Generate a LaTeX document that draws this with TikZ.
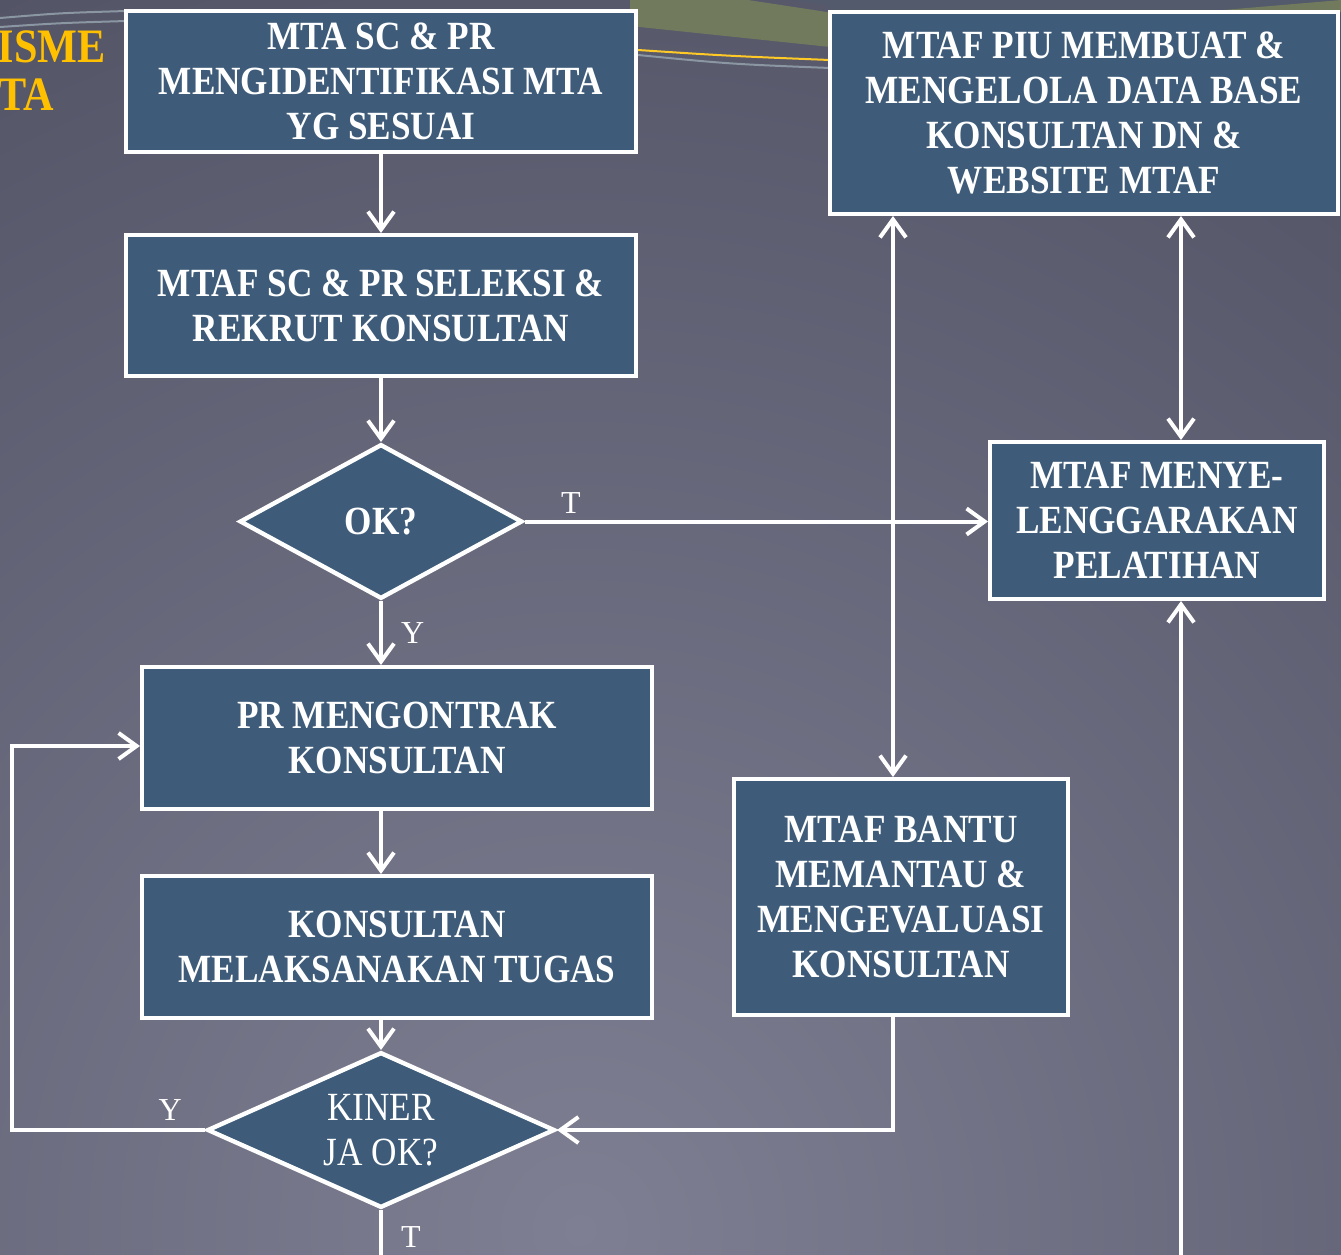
\documentclass[tikz,border=0pt]{standalone}
\usepackage{fontspec}
\setmainfont{Liberation Serif}
\newfontfamily\boxfont{Liberation Serif}[FakeStretch=0.88]
\usepackage{tikz}
\usetikzlibrary{positioning,arrows.meta,calc,shapes.geometric}

\definecolor{boxblue}{HTML}{3E5C79}
\definecolor{bglight}{HTML}{7F7F93}
\definecolor{bgdark}{HTML}{2D2D3F}
\definecolor{olive}{HTML}{717A5C}
\definecolor{topgray}{HTML}{525A6C}
\definecolor{swoosh}{HTML}{8A96A2}
\definecolor{titleyellow}{HTML}{FFC000}

\tikzset{
  flowbox/.style={draw=white, fill=boxblue, line width=2.2pt, text=white, align=center,
    font=\boxfont\bfseries\fontsize{20}{22.5}\selectfont, inner sep=2pt},
  decision/.style={flowbox, diamond, inner sep=0pt},
  flowline/.style={draw=white, line width=2pt},
  lbl/.style={text=white, font=\fontsize{16}{18}\selectfont, inner sep=0pt},
  title/.style={text=titleyellow, font=\boxfont\bfseries\fontsize{24}{28}\selectfont, inner sep=0pt},
}

\begin{document}
\begin{tikzpicture}[x=0.5pt,y=-0.5pt,>={Straight Barb[length=9pt,width=13pt]}]

  \useasboundingbox (0,0) rectangle (1341,1255);

  % background
  \begin{scope}
    \clip (0,0) rectangle (1341,1255);
    \shade[inner color=bglight, outer color=bgdark] (-2020,-1370) rectangle (3180,3830);
    \fill[olive] (630,0) -- (748,0) -- (840,14) -- (840,48) -- (630,26) -- cycle;
    \fill[topgray] (792,0) -- (840,0) -- (840,7) -- cycle;
    \fill[topgray] (828,0) rectangle (1341,12);
    \fill[olive] (1200,12) -- (1341,0) -- (1341,12) -- cycle;
    \draw[swoosh, line width=1pt] (0,18) .. controls (60,13) .. (126,11);
    \draw[swoosh, line width=1pt] (0,27) .. controls (60,23) .. (126,21);
    \draw[titleyellow!85!white, line width=1pt] (638,50) .. controls (730,56) .. (830,60);
    \draw[swoosh, line width=1pt] (638,55) .. controls (730,64) .. (830,68);
  \end{scope}

  \node[title, anchor=base east] (ttlA) at (106,62) {ISME};
  \node[title, anchor=base east] (ttlB) at (54,110) {TA};

  % left column
  \node[flowbox, minimum width=254.8pt, minimum height=70.3pt] (mta) at (381,81.5)
    {MTA SC \& PR\\MENGIDENTIFIKASI MTA\\YG SESUAI};
  \node[flowbox, minimum width=254.8pt, minimum height=70.3pt] (seleksi) [below=39.5pt of mta]
    {MTAF SC \& PR SELEKSI \&\\REKRUT KONSULTAN};
  \node[decision, aspect=1.8, minimum width=141.3pt, minimum height=77.3pt] (ok) [below=32pt of seleksi] {OK?};
  \node[flowbox, minimum width=254.8pt, minimum height=70.8pt] (kontrak) [below=32pt of ok, xshift=8pt]
    {PR MENGONTRAK\\KONSULTAN};
  \node[flowbox, minimum width=254.8pt, minimum height=70.8pt] (tugas) [below=31.5pt of kontrak]
    {KONSULTAN\\MELAKSANAKAN TUGAS};
  \node[decision, aspect=2.2, minimum width=173.8pt, minimum height=77.8pt,
    font=\boxfont\fontsize{20}{22.5}\selectfont] (kinerja) [below=15pt of tugas, xshift=-8pt]
    {KINER\\JA OK?};

  % right column
  \node[flowbox, minimum width=253.8pt, minimum height=100.8pt] (piu) at (1084,113)
    {MTAF PIU MEMBUAT \&\\MENGELOLA DATA BASE\\KONSULTAN DN \&\\WEBSITE MTAF};
  \node[flowbox, minimum width=166.8pt, minimum height=78.3pt] (latih) at (1157,520.5)
    {MTAF MENYE-\\LENGGARAKAN\\PELATIHAN};
  \node[flowbox, minimum width=166.8pt, minimum height=117.8pt] (pantau) at (901,897)
    {MTAF BANTU\\MEMANTAU \&\\MENGEVALUASI\\KONSULTAN};

  \coordinate (lft) at (12,1129);
  \coordinate (botl) at (381,1265);
  \coordinate (botr) at (1181,1265);

  % connectors
  \draw[flowline, ->] (mta) -- (seleksi);
  \draw[flowline, ->] (seleksi) -- (ok);
  \draw[flowline, ->] (ok.south) -- node[lbl, anchor=west, xshift=9pt] {Y} (ok.south |- kontrak.north);
  \draw[flowline, ->] (kontrak.south -| ok.south) -- (tugas.north -| ok.south);
  \draw[flowline, ->] (tugas.south -| kinerja.north) -- (kinerja.north);
  \draw[flowline, ->] (ok.east) -- node[lbl, pos=0.1, above=3pt] {T} (ok.east -| latih.west);
  \draw[flowline, ->] (kinerja.west) -- node[lbl, pos=0.18, above=4pt] {Y} (kinerja.west -| lft)
    |- ([yshift=-4pt]kontrak.west);
  \draw[flowline] (kinerja.south) -- node[lbl, pos=0.5, anchor=west, xshift=9pt] {T} (botl);
  \draw[flowline, <->] ([xshift=-4pt]pantau.north) -- ([xshift=-4pt]pantau.north |- piu.south);
  \draw[flowline, <->] ([xshift=12pt]latih.north) -- ([xshift=12pt]latih.north |- piu.south);
  \draw[flowline, ->] (botr) -- ([xshift=12pt]latih.south);
  \draw[flowline, ->] ([xshift=-4pt]pantau.south) |- (kinerja.east);

\end{tikzpicture}
\end{document}
